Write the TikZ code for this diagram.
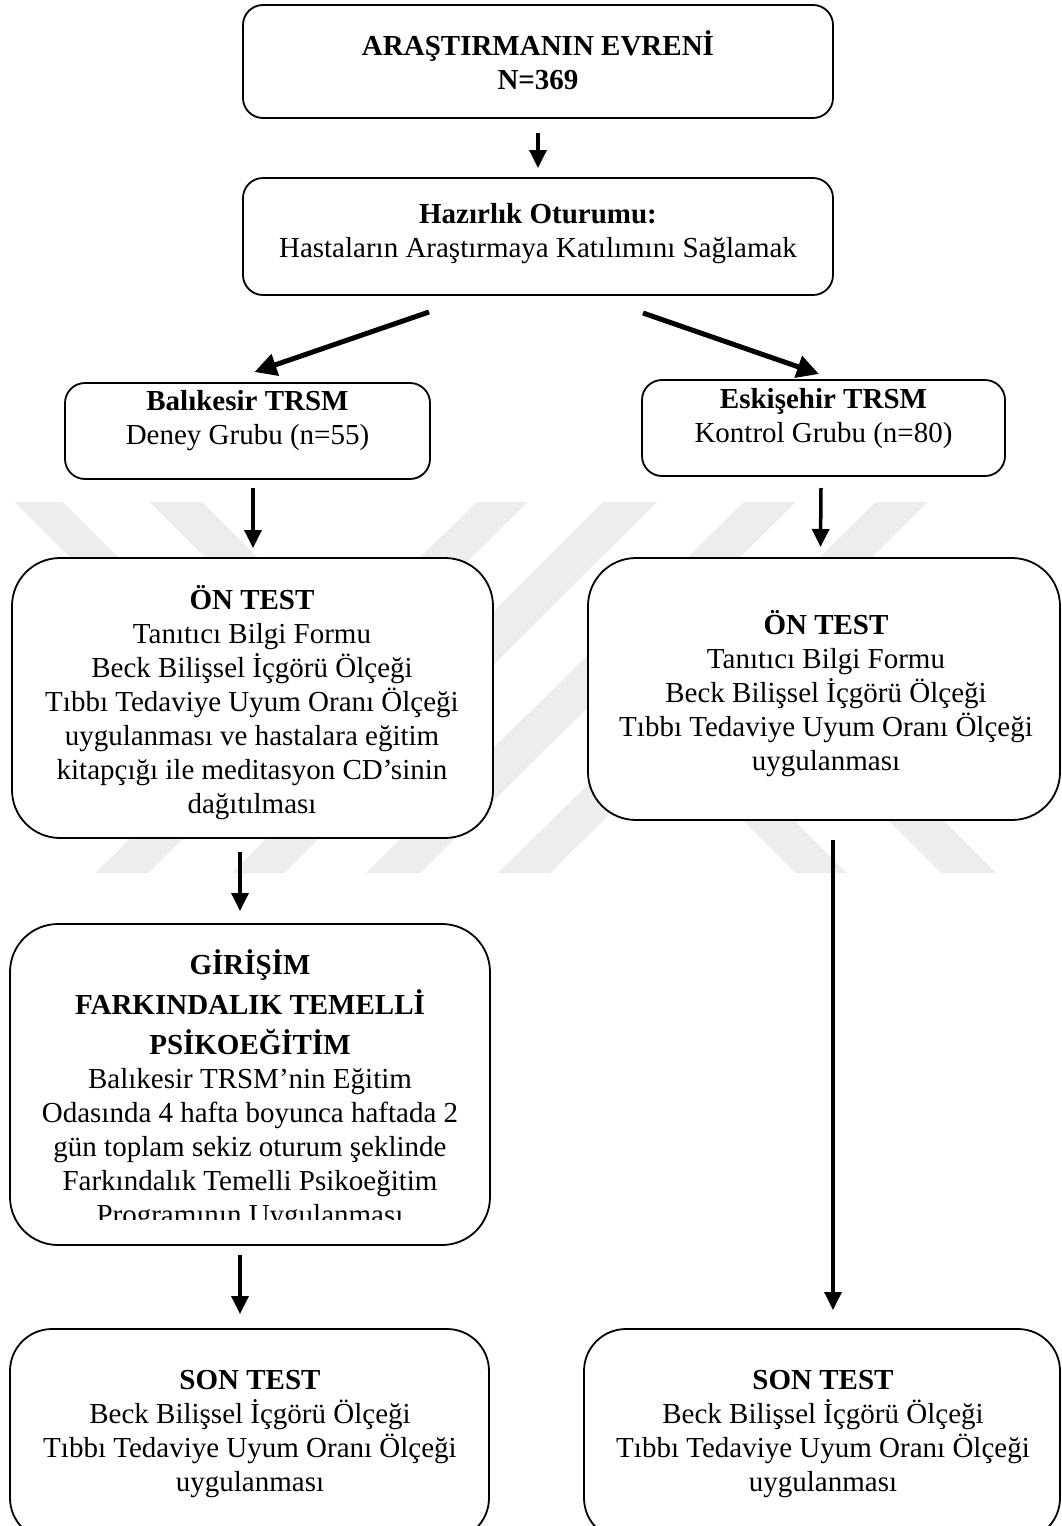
\documentclass[tikz,border=0pt]{standalone}
\usepackage{fontspec}
\setmainfont{Liberation Serif}
\usetikzlibrary{arrows.meta}
\tikzset{
  box/.style={draw=black, line width=1.8pt, fill=white, rounded corners=#1, inner sep=0pt, outer sep=0pt},
  txt/.style={align=center, inner sep=0pt, font=\fontsize{29}{34}\selectfont},
  varr/.style={line width=3.5pt, -{Triangle[width=17pt,length=18pt]}},
  darr/.style={line width=5pt, -{Triangle[width=22pt,length=22pt]}},
  wm/.style={fill=black!7}
}
\begin{document}
\begin{tikzpicture}[x=1pt,y=-1pt]
\path[use as bounding box] (0,0) rectangle (1062,1526);
\clip (0,0) rectangle (1062,1526);
\fill[white] (0,0) rectangle (1062,1526);

% watermark
\fill[wm] (477,502) -- (528,502) -- (148,873) -- (95,873) -- cycle;
\fill[wm] (603,502) -- (657,502) -- (284,873) -- (232,873) -- cycle;
\fill[wm] (744,502) -- (796,502) -- (420,873) -- (366,873) -- cycle;
\fill[wm] (876,502) -- (928,502) -- (550,873) -- (498,873) -- cycle;
\fill[wm] (15,502) -- (63,502) -- (263,702) -- (215,702) -- cycle;
\fill[wm] (150,502) -- (202,502) -- (402,702) -- (350,702) -- cycle;
\fill[wm] (796,873) -- (847,873) -- (647,673) -- (596,673) -- cycle;
\fill[wm] (941,873) -- (996,873) -- (796,673) -- (741,673) -- cycle;

% boxes
\node[box=20pt, minimum width=590pt, minimum height=113pt] (b1) at (538,61.5) {};
\node[box=20pt, minimum width=590pt, minimum height=117pt] (b2) at (538,236.5) {};
\node[box=20pt, minimum width=365pt, minimum height=96pt] (b3l) at (247.5,431) {};
\node[box=20pt, minimum width=363pt, minimum height=96pt] (b3r) at (823.5,428) {};
\node[box=48pt, minimum width=481pt, minimum height=280pt] (b4l) at (252.5,698) {};
\node[box=48pt, minimum width=472pt, minimum height=262pt] (b4r) at (824,689) {};
\node[box=48pt, minimum width=480pt, minimum height=321pt] (b5) at (250,1084.5) {};
\node[box=42pt, minimum width=479pt, minimum height=211pt] (b6l) at (249.5,1434.5) {};
\node[box=42pt, minimum width=476pt, minimum height=211pt] (b6r) at (822,1434.5) {};

% texts
\node[txt] (t1) at (538,60) {\textbf{ARAŞTIRMANIN EVRENİ}\\\textbf{N=369}};
\node[txt] (t2) at (538,234) {\textbf{Hazırlık Oturumu:}\\Hastaların Araştırmaya Katılımını Sağlamak};
\node[txt] (t3l) at (247.5,421) {\textbf{Balıkesir TRSM}\\Deney Grubu (n=55)};
\node[txt] (t3r) at (823.5,419) {\textbf{Eskişehir TRSM}\\Kontrol Grubu (n=80)};
\node[txt] (t4l) at (252,703) {\textbf{ÖN TEST}\\Tanıtıcı Bilgi Formu\\Beck Bilişsel İçgörü Ölçeği\\Tıbbı Tedaviye Uyum Oranı Ölçeği\\uygulanması ve hastalara eğitim\\kitapçığı ile meditasyon CD’sinin\\dağıtılması};
\node[txt] (t4r) at (826,694) {\textbf{ÖN TEST}\\Tanıtıcı Bilgi Formu\\Beck Bilişsel İçgörü Ölçeği\\Tıbbı Tedaviye Uyum Oranı Ölçeği\\uygulanması};
\begin{scope}
\clip (0,900) rectangle (1062,1219);
\node[txt] (t5) at (250,1090) {\textbf{GİRİŞİM}\\[6pt]\textbf{FARKINDALIK TEMELLİ}\\[6pt]\textbf{PSİKOEĞİTİM}\\Balıkesir TRSM’nin Eğitim\\Odasında 4 hafta boyunca haftada 2\\gün toplam sekiz oturum şeklinde\\Farkındalık Temelli Psikoeğitim\\Programının Uygulanması};
\end{scope}
\node[txt] (t6l) at (250,1434) {\textbf{SON TEST}\\Beck Bilişsel İçgörü Ölçeği\\Tıbbı Tedaviye Uyum Oranı Ölçeği\\uygulanması};
\node[txt] (t6r) at (823,1434) {\textbf{SON TEST}\\Beck Bilişsel İçgörü Ölçeği\\Tıbbı Tedaviye Uyum Oranı Ölçeği\\uygulanması};

% connectors
\draw[varr] ([shift={(0,15)}]b1.south) -- ([shift={(0,-10)}]b2.north);
\draw[darr] ([shift={(-109,17)}]b2.south) -- ([shift={(7,-11)}]b3l.north);
\draw[darr] ([shift={(105,18)}]b2.south) -- ([shift={(-4.5,-6)}]b3r.north);
\draw[varr] ([shift={(5.5,9)}]b3l.south) -- ([shift={(0.5,-10)}]b4l.north);
\draw[varr] ([shift={(-2.5,12)}]b3r.south) -- ([shift={(-3.5,-11)}]b4r.north);
\draw[varr] ([shift={(-12.5,14)}]b4l.south) -- ([shift={(-10,-13)}]b5.north);
\draw[varr] ([shift={(-10,10)}]b5.south) -- ([shift={(-9.5,-15)}]b6l.north);
\draw[varr] ([shift={(9,20)}]b4r.south) -- ([shift={(11,-19)}]b6r.north);
\end{tikzpicture}
\end{document}
